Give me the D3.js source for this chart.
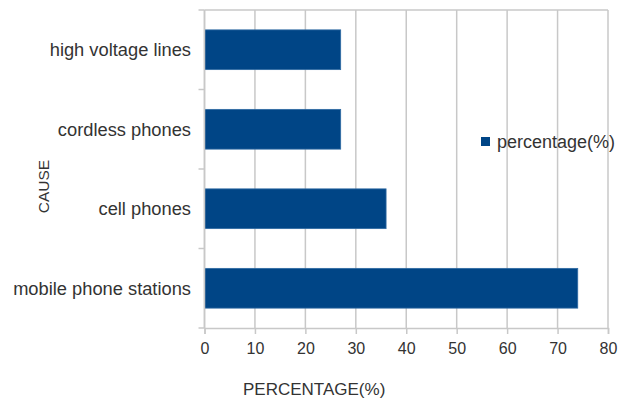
<!DOCTYPE html>
<html>
<head>
<meta charset="utf-8">
<script src="https://cdn.jsdelivr.net/npm/d3@7"></script>
<style>
body { margin: 0; background: #fff; }
text { font-family: "Liberation Sans", Arial, sans-serif; fill: #333; }
</style>
</head>
<body>
<div id="chart"></div>
<script>
// values
var causes = ['high voltage lines', 'cordless phones', 'cell phones', 'mobile phone stations']
var percentages = [27, 27, 36, 74]
var xTicks = [0, 10, 20, 30, 40, 50, 60, 70, 80]
var seriesName = 'percentage(%)'

var width = 624, height = 400
var margin = {top: 10, right: 16, bottom: 72, left: 204.5}

var svg = d3.select('#chart').append('svg')
	.attr('width', width)
	.attr('height', height)

var x = d3.scaleLinear()
	.domain([0, 80])
	.range([margin.left, width - margin.right])

var y = d3.scaleBand()
	.domain(causes)
	.range([margin.top, height - margin.bottom])
	.paddingInner(0.5)
	.paddingOuter(0.25)

var gridColor = '#c8c8c8'

// vertical grid
svg.append('g').selectAll('line')
	.data(xTicks)
	.enter().append('line')
	.attr('x1', function(d) { return x(d) })
	.attr('x2', function(d) { return x(d) })
	.attr('y1', margin.top)
	.attr('y2', height - margin.bottom)
	.attr('stroke', gridColor)
	.attr('stroke-width', 1.5)

// top frame line
svg.append('line')
	.attr('x1', x(0)).attr('x2', x(80))
	.attr('y1', margin.top).attr('y2', margin.top)
	.attr('stroke', gridColor).attr('stroke-width', 1.5)

// bars
svg.append('g').selectAll('rect')
	.data(causes)
	.enter().append('rect')
	.attr('x', x(0))
	.attr('y', function(d) { return y(d) })
	.attr('width', function(d, i) { return x(percentages[i]) - x(0) })
	.attr('height', y.bandwidth())
	.attr('fill', '#004586')
	.attr('stroke', '#2f6aa3')
	.attr('stroke-width', 0.8)

// x axis
var xAxis = svg.append('g')
	.attr('transform', 'translate(0,' + (height - margin.bottom) + ')')
	.call(d3.axisBottom(x).tickValues(xTicks).tickSize(6).tickPadding(9).tickFormat(d3.format('d')))
xAxis.select('.domain').attr('stroke', gridColor).attr('stroke-width', 1.5)
xAxis.selectAll('.tick line').attr('stroke', gridColor).attr('stroke-width', 1.5)
xAxis.selectAll('.tick text')
	.style('font-family', '"Liberation Sans", Arial, sans-serif')
	.style('font-size', '16px')
	.attr('fill', '#333')

// y axis: ticks on band boundaries
var bounds = [0, 1, 2, 3, 4].map(function(i) {
	return margin.top + i * (height - margin.bottom - margin.top) / 4
})
svg.append('line')
	.attr('x1', x(0)).attr('x2', x(0))
	.attr('y1', margin.top).attr('y2', height - margin.bottom)
	.attr('stroke', gridColor).attr('stroke-width', 1.5)
svg.append('g').selectAll('line')
	.data(bounds)
	.enter().append('line')
	.attr('x1', x(0) - 6).attr('x2', x(0))
	.attr('y1', function(d) { return d }).attr('y2', function(d) { return d })
	.attr('stroke', gridColor).attr('stroke-width', 1.5)

svg.append('g').selectAll('text')
	.data(causes)
	.enter().append('text')
	.attr('x', 191)
	.attr('y', function(d) { return y(d) + y.bandwidth() / 2 })
	.attr('dy', '0.35em')
	.attr('text-anchor', 'end')
	.style('font-size', '18.3px')
	.text(function(d) { return d })

// axis titles
svg.append('text')
	.attr('x', 243)
	.attr('y', 389)
	.attr('dy', '0.35em')
	.style('font-size', '17px')
	.text('PERCENTAGE(%)')

svg.append('text')
	.attr('transform', 'translate(43.5,186.5) rotate(-90)')
	.attr('text-anchor', 'middle')
	.attr('dy', '0.35em')
	.style('font-size', '15.5px')
	.text('CAUSE')

// legend
var legend = svg.append('g').attr('transform', 'translate(481,137)')
legend.append('rect')
	.attr('width', 9).attr('height', 9)
	.attr('fill', '#004586')
legend.append('text')
	.attr('x', 16).attr('y', 4.5)
	.attr('dy', '0.35em')
	.style('font-size', '18px')
	.text(seriesName)
</script>
</body>
</html>
